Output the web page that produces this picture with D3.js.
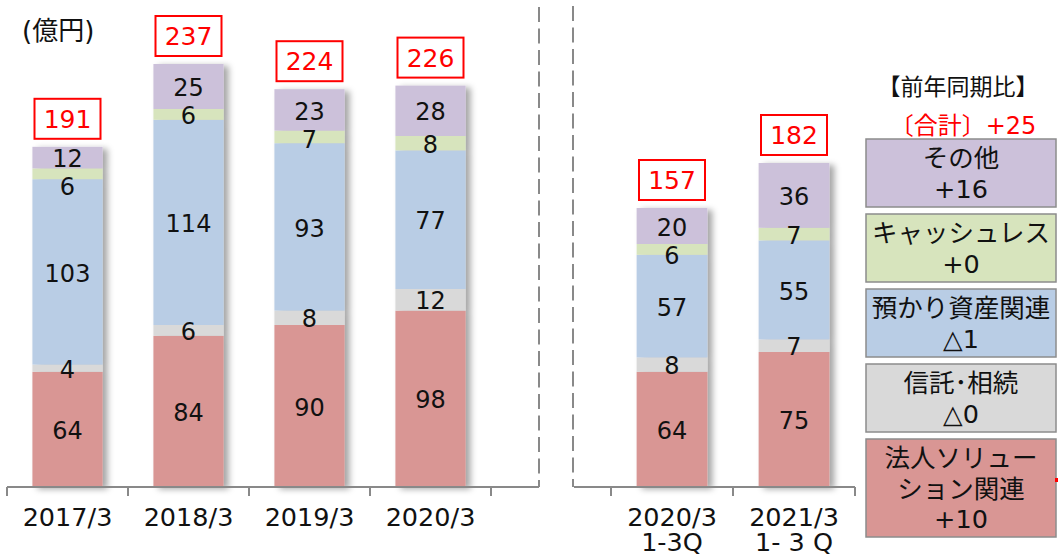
<!DOCTYPE html>
<html>
<head>
<meta charset="utf-8">
<script src="https://cdn.jsdelivr.net/npm/d3@7"></script>
<style>
  body { margin: 0; background: #fff; }
  svg text { font-family: "DejaVu Sans", "Noto Sans CJK JP", sans-serif; }
</style>
</head>
<body>
<svg id="chart" width="1058" height="556"></svg>
<script>
// data (億円)
const categories = ["2017/3", "2018/3", "2019/3", "2020/3", "2020/3\n1-3Q", "2021/3\n1- 3 Q"];
const corporate = [64, 84, 90, 98, 64, 75];   // 法人ソリューション関連
const trust     = [4, 6, 8, 12, 8, 7];         // 信託・相続
const custody   = [103, 114, 93, 77, 57, 55];  // 預かり資産関連
const cashless  = [6, 6, 7, 8, 6, 7];          // キャッシュレス
const other     = [12, 25, 23, 28, 20, 36];    // その他
const totals    = [191, 237, 224, 226, 157, 182];

const seriesKeys   = ["corporate", "trust", "custody", "cashless", "other"];
const seriesColors = ["#d99694", "#d9d9d9", "#b9cde5", "#d7e4bd", "#ccc1da"];

// legend (top to bottom)
const legendKeys   = ["other", "cashless", "custody", "trust", "corporate"];
const legendLines  = [["その他"], ["キャッシュレス"], ["預かり資産関連"], ["信託･相続"], ["法人ソリュー", "ション関連"]];
const legendDeltas = ["+16", "+0", "△1", "△0", "+10"];
const legendTitle  = "【前年同期比】";
const legendTotal  = "〔合計〕+25";
const unitLabel    = "(億円)";

const svg = d3.select("#chart");

const defs = svg.append("defs");
const shadow = defs.append("filter").attr("id", "barShadow")
  .attr("x", "-20%").attr("y", "-5%").attr("width", "150%").attr("height", "115%");
shadow.append("feDropShadow")
  .attr("dx", 5).attr("dy", 2).attr("stdDeviation", 3)
  .attr("flood-color", "#000").attr("flood-opacity", 0.35);

const rows = categories.map((c, i) => ({
  cat: c,
  corporate: corporate[i], trust: trust[i], custody: custody[i],
  cashless: cashless[i], other: other[i], total: totals[i]
}));
const stacked = d3.stack().keys(seriesKeys)(rows);
const color = d3.scaleOrdinal().domain(seriesKeys).range(seriesColors);

const y = d3.scaleLinear().domain([0, 250]).range([487, 37]);

const panels = [
  { cats: categories.slice(0, 4), from: 7, to: 491, axisFrom: 7, axisTo: 539 },
  { cats: categories.slice(4), from: 611, to: 855, axisFrom: 574, axisTo: 855 }
];

const axisColor = "#898989";

panels.forEach(p => {
  const x = d3.scaleBand().domain(p.cats).range([p.from, p.to])
    .paddingInner(0.42).paddingOuter(0.21);

  const g = svg.append("g");

  // bars
  const barG = g.selectAll("g.bar").data(p.cats).join("g")
    .attr("class", "bar")
    .attr("filter", "url(#barShadow)");
  barG.selectAll("rect").data(c => stacked.map(s => ({ key: s.key, d: s.find(v => v.data.cat === c) })))
    .join("rect")
    .attr("x", d => x(d.d.data.cat))
    .attr("width", x.bandwidth())
    .attr("y", d => y(d.d[1]))
    .attr("height", d => y(d.d[0]) - y(d.d[1]))
    .attr("fill", d => color(d.key));

  // segment labels, top-down, pushed down when they would collide
  p.cats.forEach(c => {
    let prev = -Infinity;
    const labels = stacked.slice().reverse().map(s => {
      const v = s.find(e => e.data.cat === c);
      const cy = Math.max((y(v[0]) + y(v[1])) / 2 + 1, prev + 28);
      prev = cy;
      return { cy, val: v.data[s.key] };
    });
    g.selectAll(null).data(labels).join("text")
      .attr("x", x(c) + x.bandwidth() / 2)
      .attr("y", d => d.cy)
      .attr("dy", "0.36em")
      .attr("text-anchor", "middle")
      .attr("font-size", 24)
      .attr("fill", "#111")
      .text(d => d.val);
  });

  // total boxes
  const tot = g.selectAll("g.total").data(rows.filter(r => p.cats.includes(r.cat))).join("g")
    .attr("class", "total")
    .attr("transform", r => {
      const top = y(d3.sum(seriesKeys, k => r[k]));
      return `translate(${x(r.cat) + x.bandwidth() / 2},${top - 28})`;
    });
  tot.append("rect")
    .attr("x", -33).attr("y", -20).attr("width", 66).attr("height", 40)
    .attr("fill", "#fff").attr("stroke", "#ff0000").attr("stroke-width", 2);
  tot.append("text")
    .attr("text-anchor", "middle").attr("dy", "0.36em")
    .attr("font-size", 25).attr("fill", "#ff0000")
    .text(r => r.total);

  // category axis
  g.append("line")
    .attr("x1", p.axisFrom).attr("x2", p.axisTo)
    .attr("y1", y(0)).attr("y2", y(0))
    .attr("stroke", axisColor).attr("stroke-width", 2);
  g.selectAll("line.tick").data(d3.range(p.cats.length + 1)).join("line")
    .attr("class", "tick")
    .attr("x1", i => p.from + i * x.step()).attr("x2", i => p.from + i * x.step())
    .attr("y1", y(0)).attr("y2", y(0) + 9)
    .attr("stroke", axisColor).attr("stroke-width", 2);

  const lbl = g.selectAll("text.cat").data(p.cats).join("text")
    .attr("class", "cat")
    .attr("text-anchor", "middle")
    .attr("font-size", 25.5)
    .attr("fill", "#111");
  lbl.selectAll("tspan").data(c => c.split("\n").map(t => ({ t, c }))).join("tspan")
    .attr("x", d => x(d.c) + x.bandwidth() / 2)
    .attr("y", (d, i) => y(0) + 39 + i * 25)
    .text(d => d.t);
});

// dashed separators
[[539, 7], [573, 6]].forEach(([lx, ty]) => {
  svg.append("line")
    .attr("x1", lx).attr("x2", lx).attr("y1", ty).attr("y2", y(0))
    .attr("stroke", axisColor).attr("stroke-width", 2)
    .attr("stroke-dasharray", "15,6.5");
});

// unit
svg.append("text")
  .attr("x", 22).attr("y", 31).attr("dy", "0.36em")
  .attr("font-size", 26).attr("fill", "#111")
  .text(unitLabel);

// legend
const lg = svg.append("g");
lg.append("text")
  .attr("x", 958).attr("y", 87).attr("dy", "0.36em")
  .attr("text-anchor", "middle").attr("font-size", 23).attr("fill", "#111")
  .text(legendTitle);
lg.append("text")
  .attr("x", 963).attr("y", 125).attr("dy", "0.36em")
  .attr("text-anchor", "middle").attr("font-size", 24).attr("fill", "#ff0000")
  .text(legendTotal);

let ly = 139;
legendKeys.forEach((k, i) => {
  const lines = legendLines[i].concat([legendDeltas[i]]);
  const h = 8 + 30 * lines.length;
  const box = lg.append("g").attr("transform", `translate(866,${ly})`);
  box.append("rect")
    .attr("width", 190).attr("height", h)
    .attr("fill", color(k)).attr("stroke", "#8c8c8c").attr("stroke-width", 1.5);
  box.selectAll("text").data(lines).join("text")
    .attr("x", 95).attr("y", (d, j) => 19 + j * 30.5).attr("dy", "0.36em")
    .attr("text-anchor", "middle").attr("font-size", 25.5).attr("fill", "#111")
    .text(d => d);
  ly += h + 7;
});

// small red marker at the edge of the last legend box
lg.append("rect").attr("x", 1055).attr("y", 478).attr("width", 3).attr("height", 4).attr("fill", "#ff0000");
</script>
</body>
</html>
